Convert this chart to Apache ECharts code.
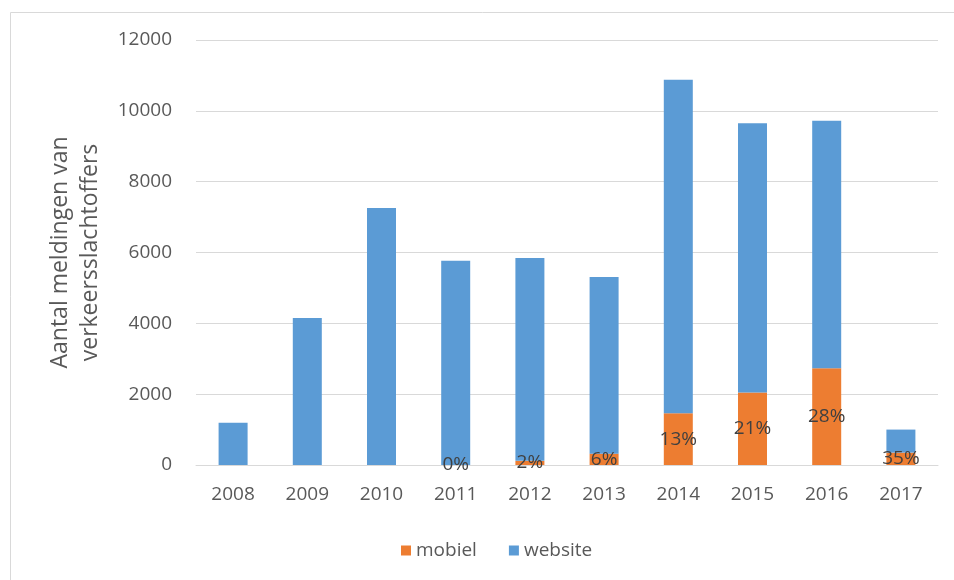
<!DOCTYPE html>
<html><head><meta charset="utf-8">
<script src="https://cdn.jsdelivr.net/npm/echarts@6/dist/echarts.min.js"></script>
<style>html,body{margin:0;padding:0;background:#fff}#c{width:954px;height:580px}</style>
</head><body><div id="c"></div>
<script>
const years = ['2008','2009','2010','2011','2012','2013','2014','2015','2016','2017'];
const mobiel = [null, null, null, 0, 117, 320, 1460, 2050, 2730, 350];
const website = [1190, 4150, 7260, 5770, 5730, 4990, 9420, 7600, 6990, 650];
const mobielPct = ['', '', '', '0%', '2%', '6%', '13%', '21%', '28%', '35%'];
const yTicks = [0, 2000, 4000, 6000, 8000, 10000, 12000];

const chart = echarts.init(document.getElementById('c'), null, {renderer: 'canvas'});
const font = '"Open Sans", sans-serif';
chart.setOption({
  animation: false,
  textStyle: {fontFamily: font},
  graphic: [{type: 'rect', shape: {x: 10.5, y: 12.5, width: 960, height: 580}, style: {fill: 'none', stroke: '#d9d9d9', lineWidth: 1}, silent: true}],
  grid: {left: 196, right: 16, top: 40, bottom: 115},
  legend: {
    bottom: 15, left: 396, itemWidth: 10, itemHeight: 10, itemGap: 32,
    icon: 'rect',
    textStyle: {color: '#595959', fontSize: 19, fontFamily: font},
    data: ['mobiel', 'website']
  },
  xAxis: {
    type: 'category', data: years,
    axisLine: {show: true, lineStyle: {color: '#d9d9d9'}},
    axisTick: {show: false},
    axisLabel: {color: '#595959', fontSize: 19, margin: 20, fontFamily: font}
  },
  yAxis: {
    type: 'value', min: yTicks[0], max: yTicks[yTicks.length - 1], interval: 2000,
    name: 'Aantal meldingen van\nverkeersslachtoffers',
    nameLocation: 'middle', nameGap: 91,
    nameTextStyle: {color: '#595959', fontSize: 23, lineHeight: 30, fontFamily: font},
    axisLine: {show: false}, axisTick: {show: false},
    axisLabel: {color: '#595959', fontSize: 19, margin: 24, fontFamily: font,
      formatter: v => String(v)},
    splitLine: {lineStyle: {color: '#d9d9d9'}}
  },
  series: [
    {
      name: 'mobiel', type: 'bar', stack: 't', data: mobiel, barWidth: 29,
      itemStyle: {color: '#ED7D31'},
      label: {show: true, position: 'inside', color: '#404040', fontSize: 19, fontFamily: font,
        formatter: p => mobielPct[p.dataIndex]}
    },
    {
      name: 'website', type: 'bar', stack: 't', data: website, barWidth: 29,
      itemStyle: {color: '#5B9BD5'}
    }
  ]
});
</script></body></html>
